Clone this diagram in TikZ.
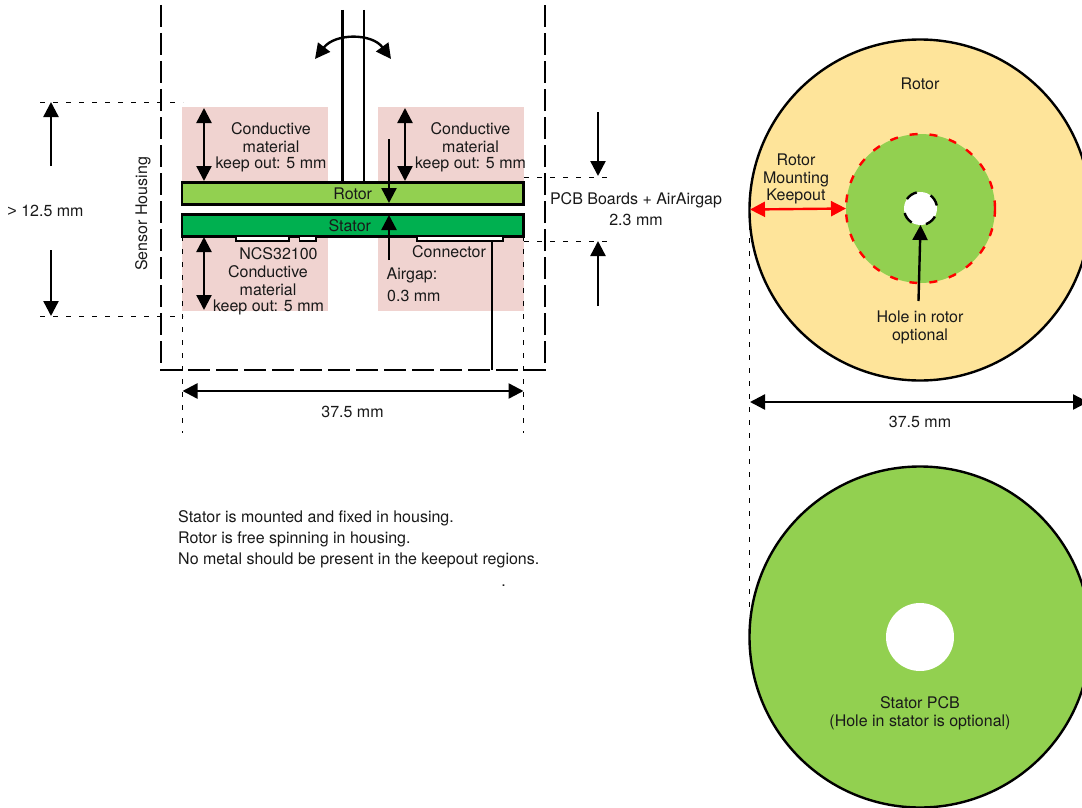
\documentclass[tikz,border=0pt]{standalone}
\usepackage{fontspec}
\setmainfont{TeX Gyre Heros}
\newfontfamily\gtfont{Liberation Sans}
\usetikzlibrary{arrows.meta}
\definecolor{pinkz}{HTML}{F0D3D0}
\definecolor{lgreen}{HTML}{92D050}
\definecolor{dgreen}{HTML}{00B050}
\definecolor{yel}{HTML}{FEE49A}
\tikzset{
 x=1pt,y=-1pt,
 lbl/.style={font=\fontsize{16}{18}\selectfont,align=center,text=black!90,inner sep=0pt},
 zone/.style={fill=pinkz,draw=none},
 board/.style={draw=black,line width=2.4pt,outer sep=0pt},
 housing/.style={line width=2.4pt,dash pattern=on 22pt off 6pt},
 thin dash/.style={line width=1pt,dash pattern=on 5pt off 8pt},
 dbl/.style={line width=2.4pt,{Triangle[length=15pt,width=15pt]}-{Triangle[length=15pt,width=15pt]}},
 sgl/.style={line width=2.4pt,-{Triangle[length=15pt,width=15pt]}},
 chip/.style={draw=black,line width=1.8pt,fill=white},
}
\begin{document}
\begin{tikzpicture}
\useasboundingbox (0,0) rectangle (1082,808);
\clip (0,0) rectangle (1082,808);
% zones
\path[zone] (182,107) rectangle (328,311);
\path[zone] (378,107) rectangle (524,311);
\fill[white] (182,182) rectangle (524,236);
% thin dashed guides
\coordinate (a1) at (40,102); \coordinate (a2) at (183,102);
\coordinate (b1) at (40,316); \coordinate (b2) at (183,316);
\coordinate (c1) at (182,236); \coordinate (c2) at (182,433);
\coordinate (d1) at (523.5,236); \coordinate (d2) at (523.5,433);
\coordinate (e1) at (524,177); \coordinate (e2) at (610,177);
\coordinate (f1) at (524,241); \coordinate (f2) at (610,241);
\coordinate (g1) at (749,225); \coordinate (g2) at (749,615);
\draw[thin dash] (a1)--(a2); \draw[thin dash] (b1)--(b2);
\draw[thin dash] (c1)--(c2); \draw[thin dash] (d1)--(d2);
\draw[thin dash] (e1)--(e2); \draw[thin dash] (f1)--(f2);
\draw[thin dash] (g1)--(g2);
% housing
\coordinate (h1) at (161,5); \coordinate (h2) at (161,370);
\coordinate (h3) at (545,370); \coordinate (h4) at (545,5);
\draw[housing] (h1)--(h2)--(h3)--(h4);
% shaft
\coordinate (s1) at (342.5,10); \coordinate (s2) at (342.5,182);
\coordinate (s3) at (364,10); \coordinate (s4) at (364,182);
\draw[line width=2.2pt] (s1)--(s2); \draw[line width=2.2pt] (s3)--(s4);
\draw[dbl] (315,59) .. controls (335,33) and (372,33) .. (391,59);
% boards
\node[board,fill=lgreen,minimum width=341.5pt,minimum height=22pt,inner sep=0pt,anchor=north west,lbl] (rotor) at (182,182.5) {Rotor};
\node[board,fill=dgreen,minimum width=341.5pt,minimum height=22pt,inner sep=0pt,anchor=north west,lbl] (stator) at (182,214.5) {\hspace*{-6pt}Stator};
\draw[chip] (236,236.5) rectangle (289,241);
\draw[chip] (299.5,236.5) rectangle (316,241);
\draw[chip] (417,236.5) rectangle (503,241);
\coordinate (w1) at (492,241); \coordinate (w2) at (492,370);
\draw[line width=2.2pt] (w1)--(w2);
% keep-out arrows
\coordinate (k1) at (204,108); \coordinate (k2) at (204,181);
\coordinate (k3) at (405,108); \coordinate (k4) at (405,181);
\coordinate (k5) at (204,237); \coordinate (k6) at (204,310);
\draw[dbl] (k1)--(k2); \draw[dbl] (k3)--(k4); \draw[dbl] (k5)--(k6);
% airgap arrows
\coordinate (g3) at (389,139); \coordinate (g4) at (389,203);
\coordinate (g5) at (389,260); \coordinate (g6) at (389,215);
\draw[sgl] (g3)--(g4); \draw[sgl] (g5)--(g6);
% outer arrows
\coordinate (p1) at (51,166); \coordinate (p2) at (51,102);
\coordinate (p3) at (51,250); \coordinate (p4) at (51,316);
\coordinate (p5) at (598,112); \coordinate (p6) at (598,176);
\coordinate (p7) at (598,306); \coordinate (p8) at (598,241);
\draw[sgl] (p1)--(p2); \draw[sgl] (p3)--(p4); \draw[sgl] (p5)--(p6); \draw[sgl] (p7)--(p8);
\coordinate (q1) at (182.5,391); \coordinate (q2) at (523.5,391);
\draw[dbl] (q1)--(q2);
% left labels
\node[lbl] (t1) at (271,138) {Conductive\\material};
\node[lbl] (t2) at (271,164) {keep out: 5 mm};
\node[lbl] (t3) at (470.5,138) {Conductive\\material};
\node[lbl] (t4) at (470.5,164) {keep out: 5 mm};
\node[lbl] (t5) at (278.5,254) {NCS32100};
\node[lbl] (t6) at (268,280.5) {Conductive\\material};
\node[lbl] (t7) at (268.5,307) {keep out: 5 mm};
\node[lbl] (t8) at (449,252) {Connector};
\node[lbl,anchor=west] (t9) at (386.5,275) {Airgap:};
\node[lbl,anchor=west] (t10) at (387,296) {0.3 mm};
\node[lbl] (t11) at (352.5,412) {37.5 mm};
\node[lbl,rotate=90] (t12) at (143,214) {Sensor Housing};
\node[lbl] (t13) at (45.5,211) {{\gtfont >} 12.5 mm};
\node[lbl] (t14) at (636,200) {PCB Boards + AirAirgap};
\node[lbl] (t15) at (636,220) {2.3 mm};
\node[lbl,anchor=west] (t16) at (178,518) {Stator is mounted and fixed in housing.};
\node[lbl,anchor=west] (t17) at (178,539) {Rotor is free spinning in housing.};
\node[lbl,anchor=west] (t18) at (178,560) {No metal should be present in the keepout regions.};
\node[lbl] (t19) at (503.5,586) {.};
% rotor disc
\node[circle,draw=black,line width=2.4pt,fill=yel,minimum size=341pt,inner sep=0pt,outer sep=0pt] (rd) at (920,210) {};
\node[circle,draw=red,line width=2.4pt,dash pattern=on 8pt off 12pt,fill=lgreen,minimum size=149pt,inner sep=0pt,outer sep=0pt] (ring) at (920.5,208.5) {};
\node[circle,draw=black,line width=2.4pt,dash pattern=on 12pt off 14.7pt,dash phase=-3pt,fill=white,minimum size=33pt,inner sep=0pt,outer sep=0pt] (hole) at (920.5,208.5) {};
\node[lbl] (t20) at (920,84) {Rotor};
\node[lbl] (t21) at (796,179) {Rotor\\Mounting\\[-0.5pt]Keepout};
\draw[dbl,draw=red,color=red] (750,209.5)--(ring.west);
\coordinate (n1) at (918.5,301);
\draw[sgl] (n1)--(hole.south);
\node[lbl] (t22) at (920,327.5) {Hole in rotor\\optional};
\coordinate (m1) at (750,402); \coordinate (m2) at (1088,402);
\draw[dbl] (m1)--(m2);
\node[lbl] (t23) at (920,422) {37.5 mm};
% stator disc
\node[circle,draw=black,line width=2.4pt,fill=lgreen,minimum size=341pt,inner sep=0pt,outer sep=0pt] (sd) at (920,637) {};
\node[circle,fill=white,minimum size=68pt,inner sep=0pt] (sh) at (920,637) {};
\node[lbl] (t24) at (920,713.5) {Stator PCB\\(Hole in stator is optional)};
\end{tikzpicture}
\end{document}
